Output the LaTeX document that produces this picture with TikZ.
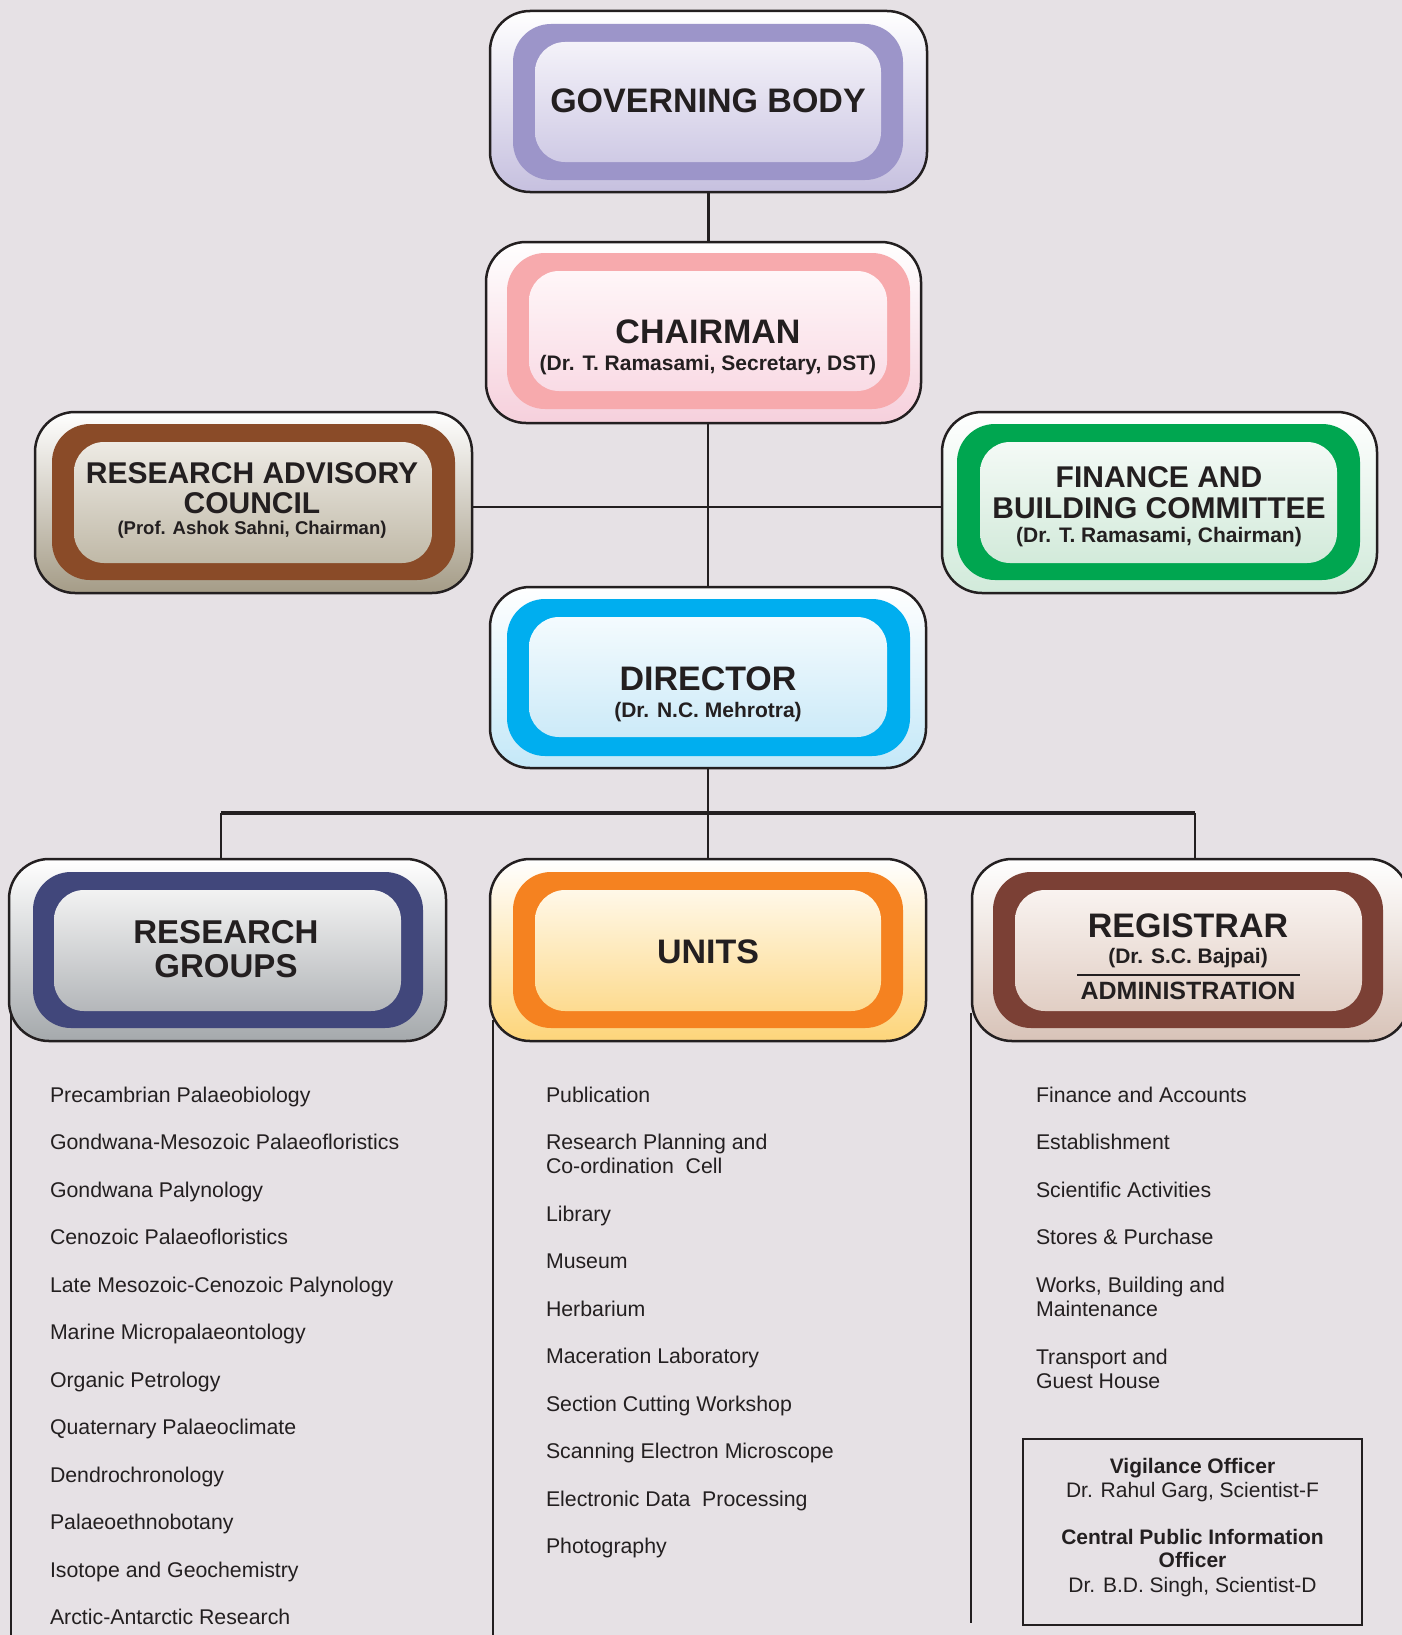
\documentclass[tikz,border=0pt]{standalone}
\usepackage{fontspec}
\setmainfont{Liberation Sans}
\definecolor{bg}{HTML}{E6E1E5}
\definecolor{ink}{HTML}{231F20}
% governing body
\definecolor{gbB}{HTML}{9C95C9}\definecolor{gbO}{HTML}{C6C0DF}\definecolor{gbIt}{HTML}{F4F2F9}\definecolor{gbIb}{HTML}{CFCAE5}
% chairman
\definecolor{chB}{HTML}{F7AAAD}\definecolor{chO}{HTML}{F6D0DC}\definecolor{chIt}{HTML}{FFF6F8}\definecolor{chIb}{HTML}{F9DBE5}
% research advisory council
\definecolor{raB}{HTML}{8A4B28}\definecolor{raO}{HTML}{A59C87}\definecolor{raIt}{HTML}{EDEAE4}\definecolor{raIb}{HTML}{C0B9A7}
% finance
\definecolor{fbB}{HTML}{00A650}\definecolor{fbO}{HTML}{D1EADA}\definecolor{fbIt}{HTML}{F4FAF6}\definecolor{fbIb}{HTML}{D2EADA}
% director
\definecolor{diB}{HTML}{00AEEF}\definecolor{diO}{HTML}{C4E8F8}\definecolor{diIt}{HTML}{F4FBFE}\definecolor{diIb}{HTML}{CCEAF8}
% research groups
\definecolor{rgB}{HTML}{41477B}\definecolor{rgO}{HTML}{A5A9AC}\definecolor{rgIt}{HTML}{F2F2F2}\definecolor{rgIb}{HTML}{B4B7BA}
% units
\definecolor{unB}{HTML}{F58220}\definecolor{unO}{HTML}{FDD57A}\definecolor{unIt}{HTML}{FFF8E8}\definecolor{unIb}{HTML}{FDDB90}
% registrar
\definecolor{reB}{HTML}{7B4035}\definecolor{reO}{HTML}{D8C3B8}\definecolor{reIt}{HTML}{F9F3F0}\definecolor{reIb}{HTML}{E1CEC4}
\tikzset{
  obox/.style={draw=ink, line width=2.5pt, rounded corners=40pt, inner sep=0pt, outer sep=0pt, rectangle},
  bandbox/.style={rounded corners=38pt, inner sep=0pt, outer sep=0pt, rectangle},
  innerbox/.style={rounded corners=30pt, inner sep=0pt, outer sep=0pt, rectangle},
  txt/.style={anchor=base, inner sep=0pt, outer sep=0pt, text=ink},
  ttl/.style={txt, font=\fontsize{34}{36}\selectfont\bfseries},
  ttlm/.style={txt, font=\fontsize{30}{32}\selectfont\bfseries},
  ttlg/.style={txt, font=\fontsize{33}{35}\selectfont\bfseries},
  sub/.style={txt, font=\fontsize{21}{24}\selectfont\bfseries},
  subs/.style={txt, font=\fontsize{18.5}{22}\selectfont\bfseries},
  item/.style={anchor=base west, inner sep=0pt, outer sep=0pt, text=ink, font=\fontsize{21.3}{24}\selectfont},
  vtxt/.style={txt, font=\fontsize{21}{24}\selectfont},
  vbold/.style={txt, font=\fontsize{21}{24}\selectfont\bfseries},
  conn/.style={draw=ink, line width=2.5pt},
  busline/.style={draw=ink, line width=3.2pt},
}
\begin{document}
\begin{tikzpicture}[x=1pt, y=-1pt]
\useasboundingbox (0,0) rectangle (1402,1635);
\fill[bg] (0,0) rectangle (1402,1635);

% ---------- GOVERNING BODY
\node[obox, top color=white, bottom color=gbO, minimum width=437pt, minimum height=181pt] (GB) at (708.5,101.5) {};
\node[bandbox, fill=gbB, minimum width=390pt, minimum height=156pt] (GBb) at (708,102) {};
\node[innerbox, top color=gbIt, bottom color=gbIb, minimum width=346pt, minimum height=120pt] (GBi) at (708,102) {};
\node[ttl] (GBt) at (708,113) {GOVERNING BODY};

% ---------- CHAIRMAN
\node[obox, top color=white, bottom color=chO, minimum width=435pt, minimum height=181pt] (CH) at (703.5,332.5) {};
\node[bandbox, fill=chB, minimum width=403pt, minimum height=156pt] (CHb) at (708.5,331) {};
\node[innerbox, top color=chIt, bottom color=chIb, minimum width=358pt, minimum height=120pt] (CHi) at (708,331) {};
\node[ttl] (CHt) at (708,343) {CHAIRMAN};
\node[sub] (CHs) at (708,370) {(Dr. T. Ramasami, Secretary, DST)};

% ---------- RESEARCH ADVISORY COUNCIL
\node[obox, top color=white, bottom color=raO, minimum width=437pt, minimum height=181pt] (RAC) at (253.5,502.5) {};
\node[bandbox, fill=raB, minimum width=403pt, minimum height=156pt] (RACb) at (253.5,502) {};
\node[innerbox, top color=raIt, bottom color=raIb, minimum width=358pt, minimum height=121pt] (RACi) at (253,502.5) {};
\node[ttlm] (RACt1) at (252,483) {RESEARCH ADVISORY};
\node[ttlm] (RACt2) at (252,513) {COUNCIL};
\node[subs] (RACs) at (252,534) {(Prof. Ashok Sahni, Chairman)};

% ---------- FINANCE AND BUILDING COMMITTEE
\node[obox, top color=white, bottom color=fbO, minimum width=435pt, minimum height=181pt] (FBC) at (1159.5,502.5) {};
\node[bandbox, fill=fbB, minimum width=403pt, minimum height=156pt] (FBCb) at (1158.5,502) {};
\node[innerbox, top color=fbIt, bottom color=fbIb, minimum width=357pt, minimum height=121pt] (FBCi) at (1158.5,502.5) {};
\node[ttlm] (FBCt1) at (1159,487) {FINANCE AND};
\node[ttlm] (FBCt2) at (1159,518) {BUILDING COMMITTEE};
\node[sub] (FBCs) at (1159,542) {(Dr. T. Ramasami, Chairman)};

% ---------- DIRECTOR
\node[obox, top color=white, bottom color=diO, minimum width=436pt, minimum height=181pt] (DIR) at (708,677.5) {};
\node[bandbox, fill=diB, minimum width=403pt, minimum height=157pt] (DIRb) at (708.5,677.5) {};
\node[innerbox, top color=diIt, bottom color=diIb, minimum width=358pt, minimum height=120pt] (DIRi) at (708,677) {};
\node[ttl] (DIRt) at (708,690) {DIRECTOR};
\node[sub] (DIRs) at (708,717) {(Dr. N.C. Mehrotra)};

% ---------- RESEARCH GROUPS
\node[obox, top color=white, bottom color=rgO, minimum width=437pt, minimum height=182pt] (RG) at (227.5,950) {};
\node[bandbox, fill=rgB, minimum width=390pt, minimum height=156pt] (RGb) at (228,950) {};
\node[innerbox, top color=rgIt, bottom color=rgIb, minimum width=347pt, minimum height=121pt] (RGi) at (227.5,950.5) {};
\node[ttlg] (RGt1) at (226,943) {RESEARCH};
\node[ttlg] (RGt2) at (226,977) {GROUPS};

% ---------- UNITS
\node[obox, top color=white, bottom color=unO, minimum width=436pt, minimum height=182pt] (UN) at (708,950) {};
\node[bandbox, fill=unB, minimum width=390pt, minimum height=156pt] (UNb) at (708,950) {};
\node[innerbox, top color=unIt, bottom color=unIb, minimum width=346pt, minimum height=121pt] (UNi) at (708,950.5) {};
\node[ttl] (UNt) at (708,963) {UNITS};

% ---------- REGISTRAR
\node[obox, top color=white, bottom color=reO, minimum width=437pt, minimum height=182pt] (REG) at (1190.5,950) {};
\node[bandbox, fill=reB, minimum width=390pt, minimum height=156pt] (REGb) at (1188,950) {};
\node[innerbox, top color=reIt, bottom color=reIb, minimum width=347pt, minimum height=121pt] (REGi) at (1188.5,950.5) {};
\node[ttl] (REGt) at (1188,937) {REGISTRAR};
\node[sub] (REGs) at (1188,963) {(Dr. S.C. Bajpai)};
\coordinate (ruleL) at (1077,975);
\coordinate (ruleR) at (1300,975);
\draw[ink, line width=1.5pt] (ruleL) -- (ruleR);
\node[txt, font=\fontsize{25}{28}\selectfont\bfseries] (REGa) at (1188,999) {ADMINISTRATION};

% ---------- connectors
\draw[conn] (GB.south) -- (GB.south |- CH.north);
\draw[conn] (DIR.north |- CH.south) -- (DIR.north);
\draw[conn] ([yshift=-4.5pt]RAC.east) -- ([yshift=-4.5pt]FBC.west);
\coordinate (busL) at (221,813);
\coordinate (busR) at (1195,813);
\draw[conn] (DIR.south) -- (UN.north);
\draw[busline] (busL) -- (busR);
\draw[conn] (busL) -- (busL |- RG.north);
\draw[conn] (busR) -- (busR |- REG.north);
\draw[conn] ([shift={(2pt,28pt)}]RG.south west) -- ++(0,640);
\draw[conn] ([shift={(3pt,21pt)}]UN.south west) -- ++(0,640);
\draw[conn] ([shift={(-1pt,28pt)}]REG.south west) -- ++(0,610);

% ---------- research group list
\node[item] (r1) at (50,1102) {Precambrian Palaeobiology};
\node[item] (r2) at (50,1149.5) {Gondwana-Mesozoic Palaeofloristics};
\node[item] (r3) at (50,1197) {Gondwana Palynology};
\node[item] (r4) at (50,1244.5) {Cenozoic Palaeofloristics};
\node[item] (r5) at (50,1292) {Late Mesozoic-Cenozoic Palynology};
\node[item] (r6) at (50,1339.5) {Marine Micropalaeontology};
\node[item] (r7) at (50,1387) {Organic Petrology};
\node[item] (r8) at (50,1434.5) {Quaternary Palaeoclimate};
\node[item] (r9) at (50,1482) {Dendrochronology};
\node[item] (r10) at (50,1529.5) {Palaeoethnobotany};
\node[item] (r11) at (50,1577) {Isotope and Geochemistry};
\node[item] (r12) at (50,1624.5) {Arctic-Antarctic Research};

% ---------- units list
\node[item] (u1) at (546,1102) {Publication};
\node[item] (u2a) at (546,1149) {Research Planning and};
\node[item] (u2b) at (546,1173) {Co-ordination\ \ Cell};
\node[item] (u3) at (546,1221) {Library};
\node[item] (u4) at (546,1268.5) {Museum};
\node[item] (u5) at (546,1316) {Herbarium};
\node[item] (u6) at (546,1363.5) {Maceration Laboratory};
\node[item] (u7) at (546,1411) {Section Cutting Workshop};
\node[item] (u8) at (546,1458.5) {Scanning Electron Microscope};
\node[item] (u9) at (546,1506) {Electronic Data\ \ Processing};
\node[item] (u10) at (546,1553.5) {Photography};

% ---------- administration list
\node[item] (a1) at (1036,1102) {Finance and Accounts};
\node[item] (a2) at (1036,1149.5) {Establishment};
\node[item] (a3) at (1036,1197) {Scientific Activities};
\node[item] (a4) at (1036,1244.5) {Stores \& Purchase};
\node[item] (a5a) at (1036,1292) {Works, Building and};
\node[item] (a5b) at (1036,1316) {Maintenance};
\node[item] (a6a) at (1036,1364) {Transport and};
\node[item] (a6b) at (1036,1388) {Guest House};

% ---------- vigilance box
\node[draw=ink, line width=2.5pt, rectangle, inner sep=0pt, minimum width=339pt, minimum height=186pt] (VIG) at (1192.5,1532) {};
\node[vbold] (v1) at (1192.5,1473) {Vigilance Officer};
\node[vtxt] (v2) at (1192.5,1497) {Dr. Rahul Garg, Scientist-F};
\node[vbold] (v3) at (1192.5,1544) {Central Public Information};
\node[vbold] (v4) at (1192.5,1567) {Officer};
\node[vtxt] (v5) at (1192.5,1592) {Dr. B.D. Singh, Scientist-D};
\end{tikzpicture}
\end{document}
